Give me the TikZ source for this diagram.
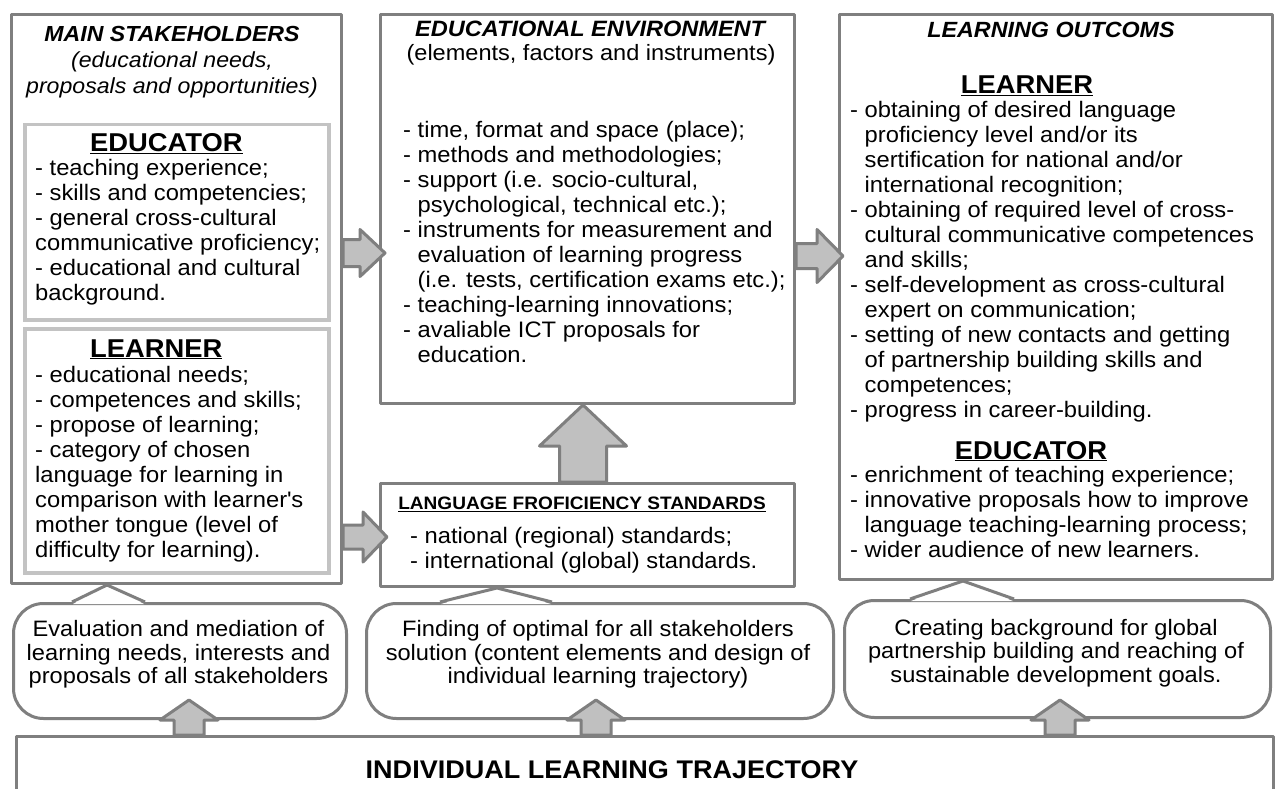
\documentclass[tikz,border=0pt]{standalone}
\usepackage{fontspec}
\setmainfont{Liberation Sans}[FakeStretch=1.06]
\usetikzlibrary{calc}
\definecolor{linegray}{HTML}{7F7F7F}
\definecolor{framegray}{HTML}{C3C3C3}
\definecolor{arrowgray}{HTML}{C0C0C0}
\def\wrapin{\hphantom{- }}
\def\blockarrow[#1](#2)(#3)(#4:#5:#6){\coordinate (ah) at ($(#3)!#4!(#2)$); \draw[#1] ($(#2)!#5!90:(#3)$) -- ($(ah)!#5!90:(#3)$) -- ($(ah)!#6!90:(#3)$) -- (#3) -- ($(ah)!#6!-90:(#3)$) -- ($(ah)!#5!-90:(#3)$) -- ($(#2)!#5!-90:(#3)$) -- cycle;}
\def\callpointer(#1)(#2:#3)(#4){\fill[white] ($(#1.north -| #2,0)+(1,2)$) -- (#4) -- ($(#1.north -| #3,0)+(-1,2)$) -- cycle; \draw[outline] (#1.north -| #2,0) -- (#4) -- (#1.north -| #3,0);}

\begin{document}
\begin{tikzpicture}[x=1pt,y=-1pt,
	outline/.style={draw=linegray,line width=3pt,line join=round},
	frame/.style={outline,fill=white,inner sep=0pt,anchor=north west},
	subframe/.style={draw=framegray,line width=3.5pt,inner sep=0pt,anchor=north west},
	bubble/.style={outline,fill=white,rounded corners=30pt,inner sep=0pt,anchor=north west},
	fat/.style={outline,fill=arrowgray},
	body/.style={inner sep=0pt,anchor=north west,align=left,font=\fontsize{22.4}{25}\selectfont,execute at begin node=\strut},
	caption/.style={inner sep=0pt,anchor=north,align=center,execute at begin node=\strut},
	head/.style={inner sep=0pt,font=\fontsize{25.8}{30}\selectfont\bfseries}]
			%%%%% START %%%%%
			
			\useasboundingbox (0,0) rectangle (1277,789);
			\clip (0,0) rectangle (1277,789);
			\fill[white] (0,0) rectangle (1277,789);
			
			\node[frame,minimum width=330,minimum height=569] (stake) at (10,13) {};
			\node[subframe,minimum width=304,minimum height=195] (edubox) at (23,123) {};
			\node[subframe,minimum width=304,minimum height=244] (lrnbox) at (23,327) {};
			\node[frame,minimum width=414,minimum height=389] (env) at (379,13) {};
			\node[frame,minimum width=414,minimum height=103] (std) at (379,482) {};
			\node[frame,minimum width=433,minimum height=565] (outc) at (838,13) {};
			\node[frame,minimum width=1257,minimum height=100] (traj) at (15,735) {};
			
			\node[caption,font=\fontsize{21.8}{26}\selectfont\itshape] (staketitle) at (172,25.8) {\textbf{MAIN STAKEHOLDERS}\\(educational needs,\\proposals and opportunities)};
			\node[head,anchor=base west] (eduhead) at (90,152) {\underline{EDUCATOR}};
			\node[body] (edutext) at (35,159.5) {- teaching experience;\\- skills and competencies;\\- general cross-cultural\\communicative proficiency;\\- educational and cultural\\background.};
			\node[head,anchor=base west] (lrnhead) at (90,357) {\underline{LEARNER}};
			\node[body] (lrntext) at (35,366.5) {- educational needs;\\- competences and skills;\\- propose of learning;\\- category of chosen\\language for learning in\\comparison with learner\textquotesingle s\\mother tongue (level of\\difficulty for learning).};
			
			\node[caption,font=\fontsize{22.2}{24.5}\selectfont] (envtitle) at (591,20.35) {\textbf{\textit{EDUCATIONAL ENVIRONMENT}}\\(elements, factors and instruments)};
			\node[body] (envtext) at (403,121.5) {- time, format and space (place);\\- methods and methodologies;\\- support (i.e. socio-cultural,\\\wrapin psychological, technical etc.);\\- instruments for measurement and\\\wrapin evaluation of learning progress\\\wrapin (i.e. tests, certification exams etc.);\\- teaching-learning innovations;\\- avaliable ICT proposals for\\\wrapin education.};
			
			\node[inner sep=0pt,anchor=base,font=\fontsize{18}{22}\selectfont\bfseries] (stdtitle) at (582,509.5) {\underline{LANGUAGE FROFICIENCY STANDARDS}};
			\node[body] (stdtext) at (410,527.5) {- national (regional) standards;\\- international (global) standards.};
			
			\node[inner sep=0pt,anchor=base,font=\fontsize{22}{26}\selectfont\bfseries\itshape] (outtitle) at (1051,37.5) {LEARNING OUTCOMS};
			\node[head,anchor=base] (outlrnhead) at (1027,94) {\underline{LEARNER}};
			\node[body] (outlrntext) at (850,101.5) {- obtaining of desired language\\\wrapin proficiency level and/or its\\\wrapin sertification for national and/or\\\wrapin international recognition;\\- obtaining of required level of cross-\\\wrapin cultural communicative competences\\\wrapin and skills;\\- self-development as cross-cultural\\\wrapin expert on communication;\\- setting of new contacts and getting\\\wrapin of partnership building skills and\\\wrapin competences;\\- progress in career-building.};
			\node[head,anchor=base] (outeduhead) at (1031,459) {\underline{EDUCATOR}};
			\node[body] (outedutext) at (850,466.5) {- enrichment of teaching experience;\\- innovative proposals how to improve\\\wrapin language teaching-learning process;\\- wider audience of new learners.};
			
			\node[inner sep=0pt,anchor=base,font=\fontsize{25.5}{30}\selectfont\bfseries] (trajtitle) at (612,778) {INDIVIDUAL LEARNING TRAJECTORY};
			
			\node[bubble,minimum width=333,minimum height=115] (b1) at (12,602) {};
			\node[bubble,minimum width=467,minimum height=115] (b2) at (365,602) {};
			\node[bubble,minimum width=426,minimum height=117] (b3) at (843,599) {};
			
			\coordinate (t1) at (stake.south -| 107,0);
			\callpointer(b1)(72:145)(t1)
			\coordinate (t2) at (std.south -| 497,0);
			\callpointer(b2)(440:552)(t2)
			\coordinate (t3) at (outc.south -| 963,0);
			\callpointer(b3)(910:1014)(t3)
			
			\node[caption,font=\fontsize{22.3}{23.5}\selectfont] (b1text) at (178.5,620.5) {Evaluation and mediation of\\learning needs, interests and\\proposals of all stakeholders};
			\node[caption,font=\fontsize{22.3}{23.5}\selectfont] (b2text) at (598,620.5) {Finding of optimal for all stakeholders\\solution (content elements and design of\\individual learning trajectory)};
			\node[caption,font=\fontsize{22.3}{23.5}\selectfont] (b3text) at (1056,619) {Creating background for global\\partnership building and reaching of\\sustainable development goals.};
			
			\coordinate (a1t) at (stake.east |- 0,253);
			\coordinate (a1h) at ($(env.west |- 0,253)+(6,0)$);
			\blockarrow[fat](a1t)(a1h)(25pt:13.5pt:23.5pt)
			\coordinate (a2t) at (env.east |- 0,256);
			\coordinate (a2h) at ($(outc.west |- 0,256)+(5,0)$);
			\blockarrow[fat](a2t)(a2h)(26pt:12.5pt:26.5pt)
			\coordinate (a3t) at (stake.east |- 0,537);
			\coordinate (a3h) at ($(std.west |- 0,537)+(8,0)$);
			\blockarrow[fat](a3t)(a3h)(24pt:12pt:25pt)
			\coordinate (a4t) at (std.north -| 583,0);
			\coordinate (a4h) at (env.south -| 583,0);
			\blockarrow[fat](a4t)(a4h)(41pt:23.5pt:43.5pt)
			
			\coordinate (u1t) at (traj.north -| 189,0);
			\coordinate (u1h) at ($(b1.south -| 189,0)+(0,-20)$);
			\blockarrow[fat](u1t)(u1h)(20pt:15pt:29pt)
			\coordinate (u2t) at (traj.north -| 596,0);
			\coordinate (u2h) at ($(b2.south -| 596,0)+(0,-20)$);
			\blockarrow[fat](u2t)(u2h)(20pt:15pt:29pt)
			\coordinate (u3t) at (traj.north -| 1060,0);
			\coordinate (u3h) at ($(b3.south -| 1060,0)+(0,-19)$);
			\blockarrow[fat](u3t)(u3h)(20pt:15pt:29pt)
			
			%%%%% END %%%%%
\end{tikzpicture}
\end{document}
